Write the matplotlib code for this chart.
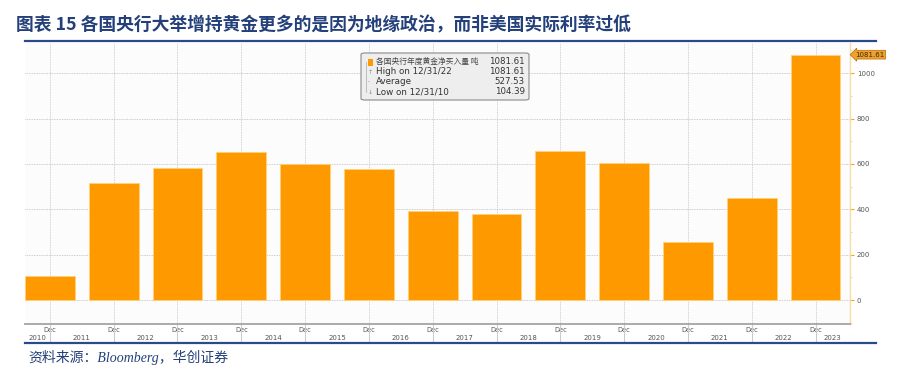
import matplotlib
matplotlib.use("Agg")
import matplotlib.pyplot as plt
from matplotlib.lines import Line2D
from matplotlib.patches import FancyBboxPatch
from matplotlib.ticker import MultipleLocator

plt.rcParams['font.family'] = ['Noto Sans CJK SC', 'DejaVu Sans']

# 各国央行年度黄金净买入量（吨），按年读图估算
years = [2010, 2011, 2012, 2013, 2014, 2015, 2016, 2017, 2018, 2019, 2020, 2021, 2022]
tons = [104.39, 517, 582, 653, 601, 580, 394, 378, 657, 606, 255, 449, 1081.61]
year_labels = [str(y) for y in range(2010, 2024)]
y_ticks = [0, 200, 400, 600, 800, 1000]

legend_name = '各国央行年度黄金净买入量 吨'
legend_rows = [('High on 12/31/22', '1081.61'),
               ('Average', '527.53'),
               ('Low on 12/31/10', '104.39')]

W, H = 900, 373
navy = '#24407a'
bar_color = '#ff9900'

fig = plt.figure(figsize=(W / 100, H / 100), dpi=100)
fig.patch.set_facecolor('white')

ax_l, ax_r, ax_t, ax_b = 25, 850, 43, 324
ax = fig.add_axes([ax_l / W, 1 - ax_b / H, (ax_r - ax_l) / W, (ax_b - ax_t) / H])
ax.set_facecolor('#fcfcfc')

x = list(range(len(years)))
ax.bar(x, tons, width=0.78, color=bar_color, edgecolor='#ffd27a', linewidth=0.6, zorder=3)

ax.set_xlim(-0.39, 12.54)
ax.set_ylim(-105, 1133)

# 网格
for v in y_ticks:
    ax.axhline(v, color='#bdbdbd', lw=0.6, ls=(0, (1, 1)), zorder=1)
for xi in x:
    ax.axvline(xi, color='#c4c4c4', lw=0.6, ls=(0, (1, 1)), zorder=1)

# 右侧纵轴
ax.yaxis.tick_right()
ax.set_yticks(y_ticks)
ax.set_yticklabels([str(v) for v in y_ticks], fontsize=5, color='#555555',
                   family='DejaVu Sans')
ax.yaxis.set_minor_locator(MultipleLocator(100))
ax.tick_params(axis='y', which='major', length=3, width=0.8, color='#ffa500', pad=2)
ax.tick_params(axis='y', which='minor', length=1.5, width=0.5, color='#f5c878')

# 横轴
ax.set_xticks(x)
ax.set_xticklabels(['Dec'] * len(x), fontsize=4.8, color='#555555', family='DejaVu Sans')
ax.tick_params(axis='x', length=2, width=0.6, color='#888888', pad=0.5)
trans = ax.get_xaxis_transform()
year_pos = [-0.195] + [i + 0.5 for i in range(12)] + [12.27]
for xp, lab in zip(year_pos, year_labels):
    ax.text(xp, -(338 - ax_b) / (ax_b - ax_t), lab, transform=trans, fontsize=5,
            color='#555555', ha='center', va='center', family='DejaVu Sans')
ax.vlines(x, 0, -(342 - ax_b) / (ax_b - ax_t), transform=trans, colors='#cccccc',
          lw=0.8, clip_on=False)

for s in ['top', 'left']:
    ax.spines[s].set_visible(False)
ax.spines['bottom'].set_color('#aaaaaa')
ax.spines['bottom'].set_linewidth(1.4)
ax.spines['right'].set_color('#f5dca8')
ax.spines['right'].set_linewidth(1.0)

# 最新值标签
ax.text(1.006, tons[-1], f'{tons[-1]:.2f}', transform=ax.get_yaxis_transform(),
        fontsize=5, color='#3a2a00', va='center', ha='left', family='DejaVu Sans',
        bbox=dict(boxstyle='larrow,pad=0.2', fc='#f0a030', ec='#b86e00', lw=0.5),
        clip_on=False)

# 图例框
def fx(px):
    return px / W


def fy(py):
    return 1 - py / H


box = FancyBboxPatch((fx(361), fy(100)), fx(529) - fx(361), fy(53) - fy(100),
                     boxstyle='round,pad=0,rounding_size=0.004', transform=fig.transFigure,
                     fc='#eeeeee', ec='#8a8a8a', lw=0.8, zorder=5)
fig.add_artist(box)
rows_y = [62, 72, 82, 92]
fig.add_artist(Line2D([fx(366), fx(366)], [fy(62), fy(92)], transform=fig.transFigure,
                      color='#aaaaaa', lw=0.5, zorder=6))
fig.add_artist(FancyBboxPatch((fx(368), fy(65.5)), fx(5), fy(58.5) - fy(65.5),
                              boxstyle='square,pad=0', transform=fig.transFigure,
                              fc=bar_color, ec='none', zorder=6))
fig.text(fx(376), fy(rows_y[0]), legend_name, fontsize=5.6, color='#444444',
         va='center', ha='left', zorder=7)
fig.text(fx(525), fy(rows_y[0]), '1081.61', fontsize=6.2, color='#333333',
         va='center', ha='right', family='DejaVu Sans', zorder=7)
marks = ['↑', '-', '↓']
for (lab, val), ry, mk in zip(legend_rows, rows_y[1:], marks):
    fig.text(fx(368), fy(ry), mk, fontsize=4.5, color='#888888', va='center',
             ha='left', family='DejaVu Sans', zorder=7)
    fig.text(fx(376), fy(ry), lab, fontsize=6.3, color='#333333', va='center',
             ha='left', family='DejaVu Sans', zorder=7)
    fig.text(fx(525), fy(ry), val, fontsize=6.2, color='#333333', va='center',
             ha='right', family='DejaVu Sans', zorder=7)

# 标题与来源
fig.text(fx(16), fy(25), '图表 15 各国央行大举增持黄金更多的是因为地缘政治，而非美国实际利率过低',
         fontsize=12.8, fontweight='bold', color=navy, va='center', ha='left')
for py in (41, 343):
    fig.add_artist(Line2D([fx(25), fx(876)], [fy(py), fy(py)], transform=fig.transFigure,
                          color='#2b4a8a', lw=1.6))
fig.text(fx(28), fy(357), '资料来源：Bloomberg，华创证券', fontsize=10, color=navy,
         style='italic', family=['Liberation Serif', 'Noto Sans CJK SC'],
         va='center', ha='left')

fig.savefig('out.png', dpi=100)
